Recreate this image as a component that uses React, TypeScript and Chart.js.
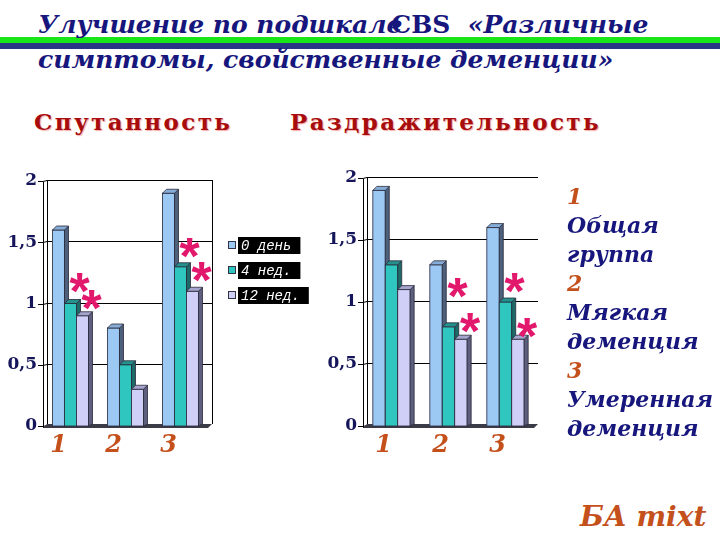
import React, { useEffect, useRef } from 'react';
import { Chart, registerables } from 'chart.js';
Chart.register(...registerables);

// ---- data ----
const groups = ['1', '2', '3'];
const seriesNames = ['0 день', '4 нед.', '12 нед.'];
const confusionDay0 = [1.6, 0.8, 1.9];
const confusionWeek4 = [1.0, 0.5, 1.3];
const confusionWeek12 = [0.9, 0.3, 1.1];
const irritDay0 = [1.9, 1.3, 1.6];
const irritWeek4 = [1.3, 0.8, 1.0];
const irritWeek12 = [1.1, 0.7, 0.7];
const yTicks = [0, 0.5, 1, 1.5, 2];
// asterisks: [series index, group index, value level]
const confusionStars = [[1, 0, 1.17], [2, 0, 1.03], [1, 2, 1.45], [2, 2, 1.26]];
const irritStars = [[1, 1, 1.11], [2, 1, 0.83], [1, 2, 1.15], [2, 2, 0.79]];
const legendLines = ['1', 'Общая', 'группа', '2', 'Мягкая', 'деменция', '3', 'Умеренная', 'деменция'];

// ---- styles ----
const frontColors = ['#9cc8f4', '#2fc6bf', '#cfcff8'];
const sideColors = ['#4d607c', '#1d6a68', '#5e5e7e'];
const topColors = ['#86acd8', '#24918d', '#a4a4cc'];
const DEPTH = 4;

function makePlugin(stars: number[][], box: boolean, legend: boolean) {
  return {
    id: 'threeD',
    beforeDatasetsDraw(chart: any) {
      const { ctx, chartArea, scales } = chart;
      const { left, right, top, bottom } = chartArea;
      const y = scales.y;
      ctx.save();
      ctx.strokeStyle = '#000';
      ctx.lineWidth = 1;
      y.ticks.forEach((t: any) => {
        const yy = Math.round(y.getPixelForValue(t.value)) + 0.5;
        ctx.beginPath();
        ctx.moveTo(left - 5, yy);
        ctx.lineTo(left, yy);
        ctx.lineTo(left + DEPTH, yy - 1);
        if (t.value > 0) ctx.lineTo(right + DEPTH, yy - 1);
        ctx.stroke();
      });
      ctx.beginPath();
      ctx.moveTo(Math.round(left + DEPTH) + 0.5, top - 1);
      ctx.lineTo(Math.round(left + DEPTH) + 0.5, bottom - 2);
      ctx.moveTo(Math.round(left) + 0.5, top + 1);
      ctx.lineTo(Math.round(left) + 0.5, bottom + 2);
      if (box) {
        ctx.moveTo(Math.round(right + DEPTH) + 0.5, top - 1);
        ctx.lineTo(Math.round(right + DEPTH) + 0.5, bottom - 2);
      }
      ctx.stroke();
      ctx.fillStyle = '#3c3c48';
      ctx.beginPath();
      ctx.moveTo(left, bottom + 2);
      ctx.lineTo(right, bottom + 2);
      ctx.lineTo(right + DEPTH, bottom - 2);
      ctx.lineTo(left + DEPTH, bottom - 2);
      ctx.closePath();
      ctx.fill();
      ctx.restore();
    },
    afterDatasetsDraw(chart: any) {
      const { ctx } = chart;
      const bars: any[] = [];
      chart.data.datasets.forEach((_: any, i: number) => {
        chart.getDatasetMeta(i).data.forEach((el: any) => {
          const p = el.getProps(['x', 'y', 'base', 'width'], true);
          bars.push({ ...p, i });
        });
      });
      bars.sort((a, b) => a.x - b.x);
      ctx.save();
      ctx.lineWidth = 0.8;
      ctx.strokeStyle = '#2a2a3a';
      bars.forEach(({ x, y, base, width, i }) => {
        const l = x - width / 2;
        const r = x + width / 2;
        ctx.fillStyle = frontColors[i];
        ctx.fillRect(l, y, width, base - y);
        ctx.strokeRect(l, y, width, base - y);
        ctx.fillStyle = sideColors[i];
        ctx.beginPath();
        ctx.moveTo(r, y);
        ctx.lineTo(r + DEPTH, y - DEPTH);
        ctx.lineTo(r + DEPTH, base - 2);
        ctx.lineTo(r, base);
        ctx.closePath();
        ctx.fill();
        ctx.stroke();
        ctx.fillStyle = topColors[i];
        ctx.beginPath();
        ctx.moveTo(l, y);
        ctx.lineTo(l + DEPTH, y - DEPTH);
        ctx.lineTo(r + DEPTH, y - DEPTH);
        ctx.lineTo(r, y);
        ctx.closePath();
        ctx.fill();
        ctx.stroke();
      });
      ctx.restore();
    },
    afterDraw(chart: any) {
      const { ctx, chartArea, scales } = chart;
      ctx.save();
      ctx.font = 'bold 52px "Liberation Mono"';
      ctx.fillStyle = '#e2186c';
      ctx.textAlign = 'center';
      ctx.textBaseline = 'alphabetic';
      const m = ctx.measureText('*');
      const mid = (m.actualBoundingBoxAscent - m.actualBoundingBoxDescent) / 2;
      stars.forEach(([s, g, v]) => {
        const bar = chart.getDatasetMeta(s).data[g];
        const { x, width } = bar.getProps(['x', 'width'], true);
        const px = x + width / 2 + 3;
        const py = scales.y.getPixelForValue(v);
        ctx.fillText('*', px, py + mid);
      });
      if (legend) {
        const lx = chartArea.right + 20;
        ctx.font = 'italic 14px "Liberation Mono"';
        ctx.textAlign = 'left';
        ctx.textBaseline = 'middle';
        chart.data.datasets.forEach((ds: any, i: number) => {
          const cy = chartArea.top + 64 + i * 25;
          ctx.fillStyle = frontColors[i];
          ctx.fillRect(lx, cy - 4, 8, 8);
          ctx.strokeStyle = '#334';
          ctx.lineWidth = 1;
          ctx.strokeRect(lx + 0.5, cy - 3.5, 7, 7);
          const w = ctx.measureText(ds.label).width + 12;
          ctx.fillStyle = '#000';
          ctx.fillRect(lx + 10, cy - 8, w, 17);
          ctx.fillStyle = '#fff';
          ctx.fillText(ds.label, lx + 13, cy + 1);
        });
      }
      ctx.restore();
    },
  };
}

type Props = {
  left: number; top: number; width: number; height: number;
  series: number[][]; stars: number[][];
  axisWidth: number; padTop: number; padRight: number;
  labelOffset: number; box: boolean; legend: boolean;
};

function BarChart(p: Props) {
  const ref = useRef<HTMLCanvasElement>(null);
  useEffect(() => {
    const chart = new Chart(ref.current as HTMLCanvasElement, {
      type: 'bar',
      data: {
        labels: groups,
        datasets: p.series.map((vals, i) => ({
          label: seriesNames[i],
          data: vals,
          backgroundColor: frontColors[i],
          borderWidth: 0,
          categoryPercentage: 0.655,
          barPercentage: 1.0,
        })),
      },
      options: {
        animation: false,
        responsive: false,
        events: [],
        layout: { padding: { top: p.padTop, right: p.padRight, left: 0, bottom: 0 } },
        plugins: { legend: { display: false }, tooltip: { enabled: false } },
        scales: {
          x: {
            grid: { display: false, drawTicks: false },
            border: { display: false },
            afterFit: (s: any) => { s.height = 39; },
            ticks: {
              padding: 5,
              labelOffset: p.labelOffset,
              color: '#c4501c',
              font: { family: '"DejaVu Serif"', size: 24, style: 'italic', weight: 'bold' },
            },
          },
          y: {
            min: 0,
            max: 2,
            grid: { display: false, drawTicks: false },
            border: { display: false },
            afterFit: (s: any) => { s.width = p.axisWidth; },
            afterBuildTicks: (s: any) => { s.ticks = yTicks.map((v) => ({ value: v })); },
            ticks: {
              padding: 6,
              color: '#15155a',
              font: { family: '"DejaVu Serif"', size: 17, weight: 'bold' },
              callback: (v: any) => String(v).replace('.', ','),
            },
          },
        },
      },
      plugins: [makePlugin(p.stars, p.box, p.legend)],
    } as any);
    return () => chart.destroy();
  }, []);
  return (
    <canvas
      ref={ref}
      width={p.width}
      height={p.height}
      style={{ position: 'absolute', left: p.left, top: p.top, width: p.width, height: p.height }}
    />
  );
}

const navy = '#16167c';
const rust = '#c4501c';
const headingStyle: React.CSSProperties = {
  position: 'absolute', top: 110, whiteSpace: 'nowrap', font: 'bold 23px "DejaVu Serif"',
  lineHeight: '23px', letterSpacing: 2.4, color: '#a80c0c', textShadow: '1px 1px 1px rgba(240,140,140,0.7)',
};

export default function App() {
  return (
    <div style={{ position: 'fixed', left: 0, top: 0, width: 720, height: 540, background: '#fff', overflow: 'hidden' }}>
      <div style={{ position: 'absolute', left: 0, top: 37, width: 720, height: 6, background: '#19e619' }} />
      <div style={{ position: 'absolute', left: 0, top: 43, width: 720, height: 6, background: '#2b3585' }} />
      <div style={{
        position: 'absolute', left: 38, top: 7, width: 690, whiteSpace: 'nowrap',
        font: 'italic bold 25px "DejaVu Serif"', lineHeight: '35px', color: navy,
      }}>
        <div>Улучшение по подшкале<span style={{ marginLeft: -11, fontStyle: 'normal' }}>CBS</span>&nbsp; «Различные</div>
        <div>симптомы, свойственные деменции»</div>
      </div>
      <div style={{ ...headingStyle, left: 34 }}>Спутанность</div>
      <div style={{ ...headingStyle, left: 290 }}>Раздражительность</div>

      <BarChart left={0} top={160} width={320} height={305}
        series={[confusionDay0, confusionWeek4, confusionWeek12]} stars={confusionStars}
        axisWidth={43} padTop={21} padRight={112} labelOffset={-12} box={true} legend={true} />
      <BarChart left={310} top={160} width={245} height={305}
        series={[irritDay0, irritWeek4, irritWeek12]} stars={irritStars}
        axisWidth={53} padTop={18} padRight={21} labelOffset={-8} box={false} legend={false} />

      <div style={{
        position: 'absolute', left: 567, top: 182, whiteSpace: 'nowrap',
        font: 'italic bold 22px "DejaVu Serif"', lineHeight: '29px', color: navy,
      }}>
        {legendLines.map((t, i) => (
          <div key={i} style={{ color: /^\d$/.test(t) ? rust : navy }}>{t}</div>
        ))}
      </div>
      <div style={{
        position: 'absolute', left: 580, top: 503, whiteSpace: 'nowrap',
        font: 'italic bold 28px "DejaVu Serif"', lineHeight: '28px', color: rust,
      }}>БА mixt</div>
    </div>
  );
}
